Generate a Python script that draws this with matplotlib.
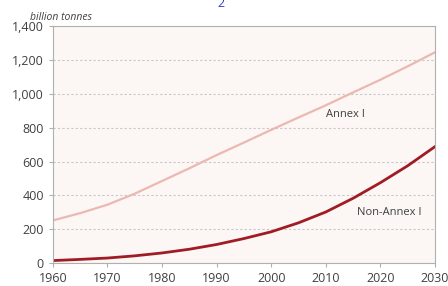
import matplotlib.pyplot as plt
from matplotlib.ticker import FuncFormatter

years = [1960, 1965, 1970, 1975, 1980, 1985, 1990, 1995, 2000, 2005, 2010, 2015, 2020, 2025, 2030]
annex1 = [252, 295, 345, 410, 485, 560, 638, 712, 787, 860, 932, 1008, 1083, 1162, 1245]
non_annex1 = [15, 22, 30, 43, 60, 82, 110, 145, 185, 238, 302, 383, 475, 575, 688]

plt.rcParams['font.family'] = ['Open Sans', 'DejaVu Sans']

fig = plt.figure(figsize=(4.48, 2.86), dpi=100)
ax = fig.add_axes([0.118, 0.080, 0.853, 0.829])
ax.set_facecolor('#fcf7f5')

ax.plot(years, annex1, color='#ebb8b2', lw=1.6)
ax.plot(years, non_annex1, color='#a01c24', lw=2)

ax.set_xlim(1960, 2030)
ax.set_ylim(0, 1400)
ax.set_xticks(range(1960, 2031, 10))
ax.set_yticks(range(0, 1401, 200))
ax.yaxis.set_major_formatter(FuncFormatter(lambda v, p: f'{int(v):,}'))
ax.grid(axis='y', color='#c8c8c8', ls=(0, (2, 2)), lw=0.8)
for s in ax.spines.values():
    s.set_color('#b0b0b0')
    s.set_linewidth(0.8)
ax.tick_params(axis='both', colors='#b0b0b0', labelcolor='#404040', labelsize=9, length=3, width=0.8)

ax.text(2010, 880, 'Annex I', fontsize=8, color='#404040', va='center')
ax.text(2015.7, 300, 'Non-Annex I', fontsize=8, color='#404040', va='center')
fig.text(0.067, 0.93, 'billion tonnes', fontsize=7.5, style='italic', color='#404040')
fig.text(0.485, 0.975, '2', fontsize=9, color='#3a3ad0')

fig.savefig('out.png', dpi=100, facecolor='white')
